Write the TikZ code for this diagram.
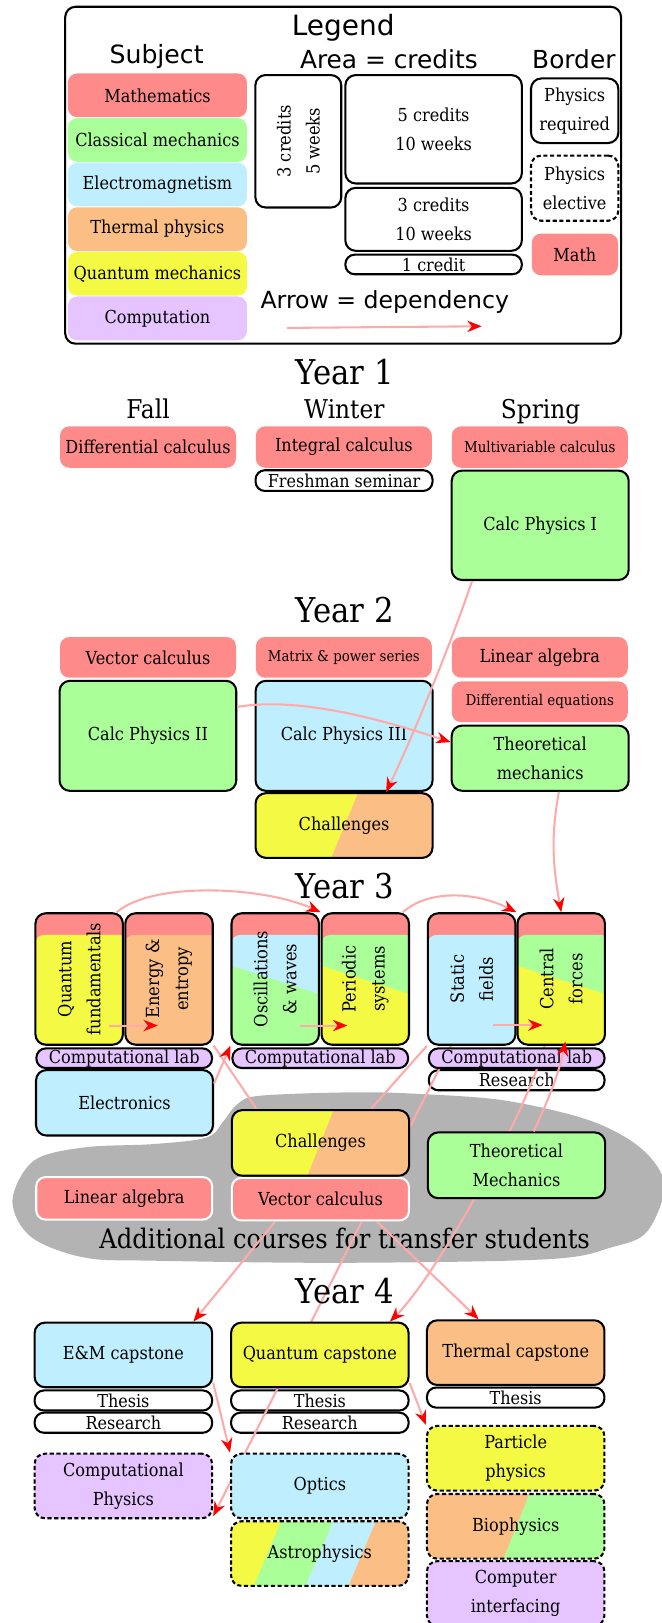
\documentclass[tikz,border=0pt]{standalone}
\usepackage{fontspec}
\setmainfont{DejaVu Serif}[FakeStretch=0.9]
\newfontfamily\sansf{DejaVu Sans}
\usetikzlibrary{arrows.meta,calc}
\pgfdeclarelayer{blob}\pgfdeclarelayer{low}\pgfdeclarelayer{lines}\pgfdeclarelayer{front}
\pgfsetlayers{blob,low,lines,main,front}
\newcommand\myfs[1]{\fontsize{#1}{28}\selectfont}
\newcommand\sfz[1]{\sansf\fontsize{#1}{#1}\selectfont}
\definecolor{mred}{HTML}{FF8A8A}
\definecolor{cgreen}{HTML}{AAFF99}
\definecolor{emblue}{HTML}{BFEFFF}
\definecolor{thor}{HTML}{FBBF85}
\definecolor{qyel}{HTML}{F4FA44}
\definecolor{cpurp}{HTML}{E5C4FF}
\definecolor{blobgray}{HTML}{B3B3B3}
\definecolor{arrline}{HTML}{FFAAAA}
\tikzset{
  bx/.style 2 args={minimum width=#1, minimum height=#2, inner sep=0pt, rounded corners=9pt, align=center, font=\myfs{17.3}, text=black},
  bd/.style={draw=black, line width=2pt},
  rb/.style={draw=black, line width=2pt, rounded corners=10pt},
  dsh/.style={draw=black, line width=2pt, rounded corners=10pt, dash pattern=on 4pt off 2.5pt},
  pill/.style={rounded corners=9pt, font=\myfs{17.2}},
  wbd/.style={draw=white, line width=2pt},
  rtxt/.style={rotate=90, align=center, font=\myfs{17.5}, inner sep=0pt},
  dep/.style={draw=arrline, line width=2pt, -{Stealth[length=14pt,width=11pt,inset=4.5pt,color=red]}},
  depn/.style={draw=arrline, line width=2pt},
  tall/.style={bx={84.5}{127}, rb, fill=mred, path picture={
    \fill[#1, rounded corners=8pt] ([yshift=-21pt]path picture bounding box.north west) rectangle ([shift={(5pt,-15pt)}]path picture bounding box.south east);}},
  tallsplit/.style 2 args={bx={84.5}{127}, rb, fill=mred, path picture={
    \fill[#1, rounded corners=8pt] ([yshift=-21pt]path picture bounding box.north west) rectangle ([shift={(5pt,-15pt)}]path picture bounding box.south east);
    \fill[#2, sharp corners] ([yshift=-50.7pt]path picture bounding box.north west) -- ([yshift=-78pt]path picture bounding box.north east) -- ([shift={(5pt,-5pt)}]path picture bounding box.south east) -- ([shift={(-5pt,-5pt)}]path picture bounding box.south west) -- cycle;}},
  split/.style n args={4}{fill=#1, path picture={
    \fill[#2, sharp corners] ([xshift=#3]path picture bounding box.north west) -- ([xshift=5pt]path picture bounding box.north east) -- ([xshift=5pt]path picture bounding box.south east) -- ([xshift=#4]path picture bounding box.south west) -- cycle;}},
  astrofill/.style={fill=qyel, path picture={
    \fill[cgreen, sharp corners] ([xshift=48.3pt]path picture bounding box.north west) -- ([xshift=5pt]path picture bounding box.north east) -- ([xshift=5pt]path picture bounding box.south east) -- ([xshift=22pt]path picture bounding box.south west) -- cycle;
    \fill[emblue, sharp corners] ([xshift=98.9pt]path picture bounding box.north west) -- ([xshift=5pt]path picture bounding box.north east) -- ([xshift=5pt]path picture bounding box.south east) -- ([xshift=72pt]path picture bounding box.south west) -- cycle;
    \fill[thor, sharp corners] ([xshift=139.9pt]path picture bounding box.north west) -- ([xshift=5pt]path picture bounding box.north east) -- ([xshift=5pt]path picture bounding box.south east) -- ([xshift=113.5pt]path picture bounding box.south west) -- cycle;}}
}
\begin{document}
\begin{tikzpicture}[x=1pt,y=-1pt]
\useasboundingbox (0,0) rectangle (639,1568);

% ---------------- Legend
\node[bx={537}{325.5}, rb] (legendbox) at (331.5,169.3) {};
\node[anchor=base, font=\sfz{27}] (tlegend) at (331.6,34.6) {Legend};
\node[anchor=base, font=\sfz{24.3}] (tsubject) at (151.3,61.4) {Subject};
\node[anchor=base, font=\sfz{24}] (tarea) at (375.7,66.1) {Area = credits};
\node[anchor=base, font=\sfz{24}] (tborder) at (554.4,66.1) {Border};
\node[anchor=base, font=\sfz{22.8}] (tarrow) at (371.8,298.3) {Arrow = dependency};

\node[bx={173}{42.3}, fill=mred] (smath) at (152.1,92.1) {Mathematics};
\node[bx={173}{42.3}, fill=cgreen] (sclass) at (152.1,135.2) {Classical mechanics};
\node[bx={173}{42.3}, fill=emblue] (sem) at (152.1,178.3) {Electromagnetism};
\node[bx={173}{42.3}, fill=thor] (sth) at (152.1,221.4) {Thermal physics};
\node[bx={173}{42.3}, fill=qyel] (sqm) at (152.1,264.5) {Quantum mechanics};
\node[bx={173}{42.3}, fill=cpurp] (scomp) at (152.1,307.6) {Computation};

\node[bx={83}{128}, rb, label={[rtxt]center:3 credits\\5 weeks}] (c3w5) at (288.2,136.5) {};
\node[bx={170.5}{104.7}, rb] (c5w10) at (418.9,124.9) {5 credits\\10 weeks};
\node[bx={170.5}{60.8}, rb] (c3w10) at (418.9,211.9) {3 credits\\10 weeks};
\node[bx={170.5}{18.9}, bd, pill] (c1) at (418.9,255.5) {1 credit};
\node[bx={84.4}{62.4}, rb] (preq) at (555.2,107) {Physics\\required};
\node[bx={84.4}{63}, dsh] (pel) at (555.2,181.8) {Physics\\elective};
\node[bx={83.3}{40.3}, fill=mred] (pmath) at (555.4,245.8) {Math};
\coordinate (la1) at (277.3,316.8);
\coordinate (la2) at (465.4,315.2);

% ---------------- Year 1
\node[anchor=base, font=\myfs{33}] (y1) at (333,371.3) {Year 1};
\node[anchor=base, font=\myfs{25}] (fall) at (143,404.6) {Fall};
\node[anchor=base, font=\myfs{25}] (winter) at (332.7,404.6) {Winter};
\node[anchor=base, font=\myfs{25}] (spring) at (522.3,404.6) {Spring};
\node[bx={170}{40}, fill=mred] (dcalc) at (143,431.9) {Differential calculus};
\node[bx={170}{40}, fill=mred] (icalc) at (332.2,431.9) {Integral calculus};
\node[bx={171}{20}, bd, pill] (fresh) at (332.4,464.3) {Freshman seminar};
\node[bx={170}{40}, fill=mred, font=\myfs{14.4}] (mcalc) at (521.5,431.9) {Multivariable calculus};
\node[bx={171}{105.7}, rb, fill=cgreen] (cp1) at (521.9,507.5) {Calc Physics I};

% ---------------- Year 2
\node[anchor=base, font=\myfs{33}] (y2) at (333,601) {Year 2};
\node[bx={170}{39.3}, fill=mred] (vcalc) at (143,635.1) {Vector calculus};
\node[bx={170}{39.3}, fill=mred, font=\myfs{14.3}] (mps) at (332.2,635.1) {Matrix \& power series};
\node[bx={170}{39.3}, fill=mred] (linalg) at (521.5,635.1) {Linear algebra};
\node[bx={170}{39.3}, fill=mred, font=\myfs{14.4}] (deq) at (521.5,678) {Differential equations};
\node[bx={170.7}{106.3}, rb, fill=cgreen] (cp2) at (142.9,710.9) {Calc Physics II};
\node[bx={171}{106.3}, rb, fill=emblue] (cp3) at (332.4,710.9) {Calc Physics III};
\node[bx={171}{63}, rb, fill=cgreen] (tm) at (521.9,732.5) {Theoretical\\mechanics};
\node[bx={171}{62.5}, rb, split={qyel}{thor}{98.9pt}{73.2pt}] (chal2) at (332.4,797.55) {Challenges};

% ---------------- Year 3
\node[anchor=base, font=\myfs{33}] (y3) at (333,867.6) {Year 3};
\node[tall=qyel, label={[rtxt]center:Quantum\\fundamentals}] (qf) at (76.5,945.8) {};
\node[tall=thor, label={[rtxt]center:Energy \&\\entropy}] (en) at (163.3,945.8) {};
\node[tallsplit={emblue}{cgreen}, label={[rtxt]center:Oscillations\\\& waves}] (osc) at (265.9,945.8) {};
\node[tallsplit={cgreen}{qyel}, label={[rtxt]center:Periodic\\systems}] (per) at (352.9,945.8) {};
\node[tall=emblue, label={[rtxt]center:Static\\fields}] (sta) at (455.7,945.8) {};
\node[tallsplit={cgreen}{qyel}, label={[rtxt]center:Central\\forces}] (cen) at (542.2,945.8) {};
\node[bx={169.7}{18.9}, bd, pill, fill=cpurp, font=\myfs{17.3}] (cl1) at (120,1022.35) {Computational lab};
\node[bx={169.7}{18.9}, bd, pill, fill=cpurp, font=\myfs{17.3}] (cl2) at (309.4,1022.35) {Computational lab};
\node[bx={169.7}{18.9}, bd, pill, fill=cpurp, font=\myfs{17.3}] (cl3) at (499.2,1022.35) {Computational lab};
\begin{pgfonlayer}{low}
\node[bx={169.7}{19.4}, bd, pill, fill=white] (res3) at (499.2,1043.6) {Research};
\end{pgfonlayer}
\node[bx={171}{63.2}, rb, fill=emblue] (elec) at (120.3,1065.4) {Electronics};

% ---------------- Transfer courses
\begin{pgfonlayer}{blob}
\fill[blobgray] plot[smooth cycle, tension=0.55] coordinates {(216,1083) (229,1067) (251,1058.6) (341.6,1055.3) (407.6,1057) (489,1063.4) (570.6,1082.8) (620,1110) (642,1145) (625,1190) (591,1205) (529.8,1216.5) (333,1220) (150,1218) (81.5,1214.9) (30,1195) (12,1160) (32.6,1121.4) (81.5,1108.5) (148.2,1105.3) (199.8,1098.9)};
\node[anchor=base, font=\myfs{26}] (tadd) at (333,1206.5) {Additional courses for transfer students};
\end{pgfonlayer}
\node[bx={171.3}{63.4}, rb, split={qyel}{thor}{98.3pt}{73.1pt}] (chal3) at (309.6,1104.2) {Challenges};
\node[bx={170}{41}, wbd, fill=mred] (laT) at (120,1157.7) {Linear algebra};
\node[bx={171}{41}, wbd, fill=mred] (vecT) at (309.6,1158.5) {Vector calculus};
\node[bx={171.3}{63.5}, rb, fill=cgreen] (tmT) at (499,1125.8) {Theoretical\\Mechanics};

% ---------------- Year 4
\node[anchor=base, font=\myfs{33}] (y4) at (333,1259) {Year 4};
\node[bx={171.5}{62.4}, rb, fill=emblue] (emcap) at (119.2,1309) {E\&M capstone};
\node[bx={171.5}{62.4}, rb, fill=qyel] (qcap) at (309,1309) {Quantum capstone};
\node[bx={171.5}{62.5}, rb, fill=thor] (thcap) at (498.2,1306.8) {Thermal capstone};
\begin{pgfonlayer}{low}
\node[bx={171.5}{19.4}, bd, pill, fill=white] (thA) at (119.2,1353) {Thesis};
\node[bx={171.5}{19.4}, bd, pill, fill=white] (resA) at (119.2,1374.5) {Research};
\node[bx={171.5}{19.4}, bd, pill, fill=white] (thB) at (309,1353) {Thesis};
\node[bx={171.5}{19.4}, bd, pill, fill=white] (resB) at (309,1374.5) {Research};
\node[bx={171.5}{19.4}, bd, pill, fill=white] (thC) at (498.2,1350.2) {Thesis};
\end{pgfonlayer}
\node[bx={171.5}{62.4}, dsh, fill=cpurp] (cphys) at (119.2,1435.6) {Computational\\Physics};
\node[bx={171.5}{62.4}, dsh, fill=emblue] (optics) at (309,1435.6) {Optics};
\node[bx={171.5}{62.4}, dsh, astrofill] (astro) at (309,1500.9) {Astrophysics};
\node[bx={171.5}{62.5}, dsh, fill=qyel] (particle) at (498.2,1408.85) {Particle\\physics};
\node[bx={171.5}{62.5}, dsh, split={thor}{cgreen}{98.9pt}{74pt}] (bio) at (498.2,1474.6) {Biophysics};
\node[bx={171.5}{62.5}, dsh, fill=cpurp] (compint) at (498.2,1539.5) {Computer\\interfacing};

% ---------------- dependency lines behind boxes
\begin{pgfonlayer}{lines}
\draw[depn] (en.south east) -- ($(chal3.north west)+(25,0)$);
\draw[depn] (sta.south west) -- ($(chal3.north east)+(-38,0)$);
\draw[depn] ($(vecT.north)+(62,0)$) -- ($(sta.south)+(-20,0)$);
\draw[dep] ($(cen.south)+(-16,0)$) .. controls +(-20,70) and +(45,-45) .. ($(qcap.north east)+(-19,0)$);
\draw[dep] ($(vecT.south)+(-43.7,0)$) -- ($(emcap.north)+(67.7,0)$);
\draw[dep] ($(vecT.south)+(40,0)$) -- ($(cphys.south east)+(0,-3)$);
\draw[dep] ($(vecT.south)+(54.4,0)$) -- ($(thcap.north)+(-35.8,0)$);
\draw[dep] ($(emcap.east)+(0,27)$) -- (optics.north west);
\draw[dep] ($(qcap.east)+(0,27)$) -- (particle.north west);
\end{pgfonlayer}

% ---------------- dependency lines on top
\begin{pgfonlayer}{front}
\draw[dep] (la1) -- (la2);
\draw[dep] ($(cp1.south)+(-65.9,0)$) .. controls +(-19,57) and +(26,-54) .. ($(chal2.north)+(40.6,0)$);
\draw[dep] ($(cp2.east)+(0,-28)$) .. controls +(60,-10) and +(-67,-22) .. ($(tm.west)+(0,-15.5)$);
\draw[dep] ($(tm.south)+(18,0)$) .. controls +(-8,45) and +(-8,-45) .. (cen.north);
\draw[dep] ($(qf.north east)+(-7,0)$) .. controls +(35,-30) and +(-55,-25) .. (per.north west);
\draw[dep] ($(per.north east)+(-7,0)$) .. controls +(25,-22) and +(-40,-20) .. (cen.north west);
\draw[dep] ($(qf.east)+(-14.5,45)$) -- ($(en.west)+(32.5,45)$);
\draw[dep] ($(osc.east)+(-19.8,45)$) -- ($(per.west)+(26,45)$);
\draw[dep] ($(sta.east)+(-22.7,44.5)$) -- ($(cen.west)+(25.3,44.5)$);
\draw[dep] ($(tmT.north)+(16.6,0)$) .. controls +(14,-30) and +(-6,30) .. ($(cen.south)+(4,-4)$);
\draw[dep] ($(elec.north east)+(0,14)$) -- (osc.south west);
\end{pgfonlayer}
\end{tikzpicture}
\end{document}
